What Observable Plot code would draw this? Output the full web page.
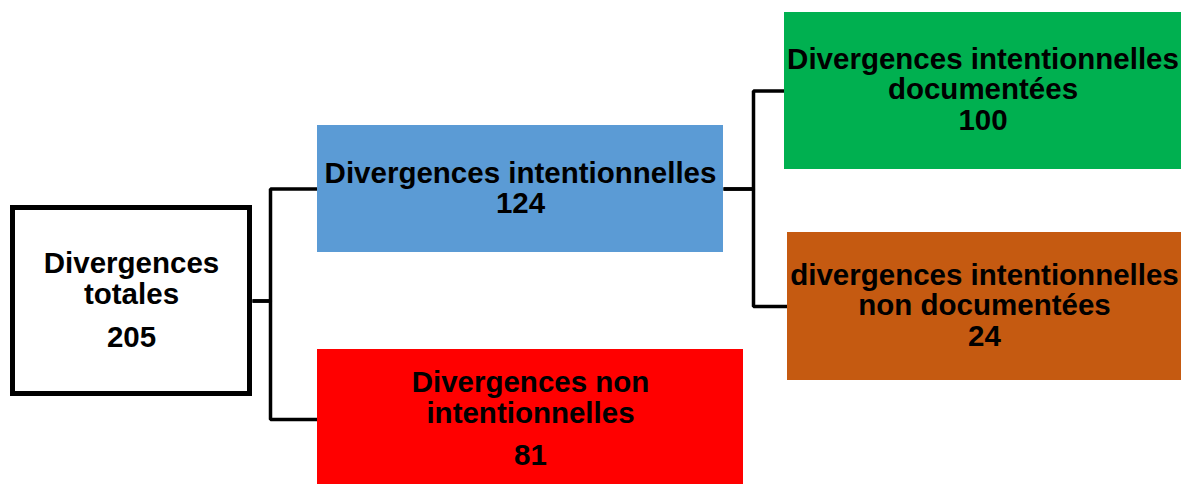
<!DOCTYPE html>
<html>
<head>
<meta charset="utf-8">
<script src="https://cdn.jsdelivr.net/npm/d3@7"></script>
<script src="https://cdn.jsdelivr.net/npm/@observablehq/plot@0.6"></script>
<style>
  html, body { margin: 0; padding: 0; background: #fff; overflow: hidden; }
  #chart svg { display: block; }
</style>
</head>
<body>
<div id="chart"></div>
<script>
// ---- Data ----
const nodeIds = ["total", "intent", "nonIntent", "doc", "nonDoc"];
const nodeNames = [
  "Divergences\ntotales",
  "Divergences intentionnelles",
  "Divergences non\nintentionnelles",
  "Divergences intentionnelles\ndocumentées",
  "divergences intentionnelles\nnon documentées"
];
const nodeValues = [205, 124, 81, 100, 24];
const nodeParents = [null, "total", "total", "intent", "intent"];

// ---- Styles ----
const nodeFill = {total: "#ffffff", intent: "#5B9BD5", nonIntent: "#FF0000", doc: "#00B050", nonDoc: "#C55A11"};

// ---- Layout (diagram geometry, in scale units) ----
// joined: value printed as the last line of the same label block
const layout = {
  total:     {x1: 12.5, x2: 249.5, y1: 207.5, y2: 393.5, nameBase: 303, valueBase: 346, lh: 1.03, joined: false, junction: 270},
  intent:    {x1: 317, x2: 723, y1: 125, y2: 252, valueBase: 212.5, lh: 1.03, joined: true, junction: 753},
  nonIntent: {x1: 317, x2: 743, y1: 349, y2: 489, nameBase: 422, valueBase: 464, lh: 1.03, joined: false},
  doc:       {x1: 784, x2: 1181, y1: 12, y2: 169, valueBase: 129, lh: 1.03, joined: true},
  nonDoc:    {x1: 787, x2: 1181, y1: 232, y2: 380, valueBase: 345, lh: 1.03, joined: true}
};

const nodes = nodeIds.map((id, i) => ({
  id, name: nodeNames[i], value: nodeValues[i], parent: nodeParents[i],
  ...layout[id], cx: (layout[id].x1 + layout[id].x2) / 2, cy: (layout[id].y1 + layout[id].y2) / 2
}));
const byId = Object.fromEntries(nodes.map(d => [d.id, d]));

// elbow connectors parent -> child
const linkPts = [];
nodes.filter(d => d.parent).forEach(c => {
  const p = byId[c.parent];
  const px = p.id === "total" ? 252 : p.x2;
  linkPts.push({z: c.id, x: px, y: p.cy});
  linkPts.push({z: c.id, x: p.junction, y: p.cy});
  linkPts.push({z: c.id, x: p.junction, y: c.cy});
  linkPts.push({z: c.id, x: c.x1, y: c.cy});
});

const font = "'Liberation Sans', Arial, sans-serif";
const fs = 29.5;
const textStyle = {fontSize: fs, fontWeight: "bold", fill: "#000", fontFamily: font, lineAnchor: "bottom"};

const labelMarks = nodes.flatMap(d => d.joined
  ? [Plot.text([d], {x: "cx", y: "valueBase", text: e => e.name + "\n" + e.value, lineHeight: d.lh, ...textStyle})]
  : [
      Plot.text([d], {x: "cx", y: "nameBase", text: "name", lineHeight: d.lh, ...textStyle}),
      Plot.text([d], {x: "cx", y: "valueBase", text: e => String(e.value), ...textStyle})
    ]);

const chart = Plot.plot({
  width: 1181,
  height: 484,
  margin: 0,
  style: {fontFamily: font, background: "#fff"},
  x: {domain: [0, 1181], range: [0, 1181], axis: null},
  y: {domain: [0, 484], range: [0, 484], axis: null},
  marks: [
    Plot.line(linkPts, {x: "x", y: "y", z: "z", stroke: "#000", strokeWidth: 3.5, curve: "linear", strokeLinejoin: "miter", strokeLinecap: "butt"}),
    Plot.rect(nodes.filter(d => d.id !== "total"), {x1: "x1", x2: "x2", y1: "y1", y2: "y2", fill: d => nodeFill[d.id], clip: true}),
    Plot.rect(nodes.filter(d => d.id === "total"), {x1: "x1", x2: "x2", y1: "y1", y2: "y2", fill: "#fff", stroke: "#000", strokeWidth: 5}),
    ...labelMarks
  ]
});
document.getElementById("chart").appendChild(chart);
</script>
</body>
</html>
